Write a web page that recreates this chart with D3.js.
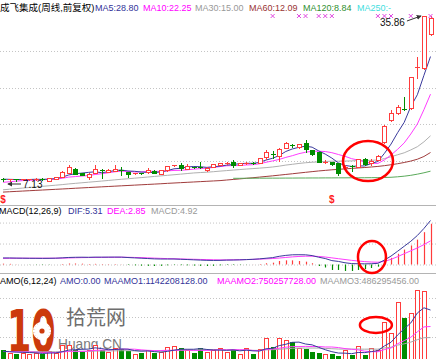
<!DOCTYPE html>
<html><head><meta charset="utf-8">
<script src="https://cdn.jsdelivr.net/npm/d3@7/dist/d3.min.js"></script>
<style>
html,body{margin:0;padding:0;background:#fff;overflow:hidden}
svg{display:block;font-family:"Liberation Sans",Arial,"Noto Sans CJK SC",sans-serif}
</style>
</head><body>
<svg id="chart" width="436" height="359"></svg>
<script>
// ---------------- DATA ----------------
const weeks = ("W01 W02 W03 W04 W05 W06 W07 W08 W09 W10 W11 W12 W13 W14 W15 W16 W17 W18 W19 W20 " +
  "W21 W22 W23 W24 W25 W26 W27 W28 W29 W30 W31 W32 W33 W34 W35 W36 W37 W38 W39 W40 " +
  "W41 W42 W43 W44 W45 W46 W47 W48 W49 W50 W51 W52 W53 W54 W55 W56 W57 W58 W59 W60 " +
  "W61 W62 W63 W64 W65 W66").split(" ");

const open  = [7.55,7.30,7.45,7.30,7.35,7.30,7.55,7.20,7.50,7.90, 8.50,9.20,8.50,7.85,8.50,9.10,8.75,8.90,9.10,8.70,
  8.45,8.55,8.70,8.90,8.40,9.00,9.85,9.95,9.20,9.60, 9.60,9.00,9.55,9.90,10.15,10.40,10.00,10.20,10.35,10.30,
  11.30,11.90,11.50,12.85,13.40,13.00,13.75,12.50,12.15,10.35, 10.45,10.20,9.35,9.75,9.60,10.95,10.25,10.75,13.90,17.70,
  18.95,19.75,19.80,26.90,26.80,32.80];
const high  = [7.65,7.55,7.50,7.50,7.55,7.65,7.60,7.65,7.80,8.80, 9.90,9.40,8.60,8.45,9.90,9.20,9.20,9.90,9.55,8.75,
  8.60,8.60,9.40,9.00,9.10,9.80,10.00,10.25,10.10,9.65, 10.40,9.55,10.10,10.30,10.50,10.75,10.35,10.40,10.40,11.20,
  12.50,12.35,12.80,13.90,13.55,13.65,14.25,12.60,12.20,10.80, 10.50,10.30,10.00,9.90,11.00,11.10,11.00,11.60,16.80,19.50,
  20.30,21.75,25.30,28.70,35.86,35.86];
const low   = [7.13,7.20,7.20,7.22,7.30,7.25,7.30,7.15,7.45,7.85, 8.45,8.30,8.10,7.45,8.45,7.65,8.70,8.85,8.20,7.80,
  8.40,8.30,8.60,8.50,8.30,8.95,9.80,9.00,9.15,9.45, 9.40,8.95,9.50,9.85,10.05,9.55,9.90,10.10,10.10,10.25,
  10.90,11.20,10.60,12.80,13.10,12.95,12.20,11.60,10.40,10.20, 10.00,8.15,9.20,8.95,9.50,10.00,9.95,10.70,13.80,17.60,
  18.80,19.45,19.70,25.05,26.70,32.50];
const close = [7.35,7.45,7.30,7.40,7.45,7.55,7.35,7.60,7.75,8.70, 9.56,8.35,8.20,8.35,9.20,8.80,9.10,9.30,8.80,8.35,
  8.55,8.45,9.00,8.60,9.00,9.70,9.95,9.45,9.70,9.50, 9.45,9.40,10.05,10.20,10.35,10.00,10.20,10.30,10.20,11.10,
  12.10,11.75,12.70,13.70,13.30,13.55,12.70,11.85,10.45,10.50, 10.10,8.50,9.65,9.60,10.90,10.10,10.60,11.45,16.70,18.95,
  20.00,19.60,25.20,27.00,35.86,35.50];

const ma5 = [7.45,7.42,7.38,7.38,7.39,7.43,7.41,7.47,7.54,7.79, 8.19,8.39,8.51,8.63,8.73,8.58,8.73,8.95,9.04,8.87,
  8.82,8.69,8.63,8.59,8.72,8.95,9.25,9.34,9.56,9.66, 9.61,9.50,9.62,9.72,9.89,10.0,10.16,10.21,10.21,10.36,
  10.78,11.09,11.57,12.27,12.71,13.0,13.19,13.02,12.37,11.81, 11.12,10.28,9.84,9.67,9.75,9.75,10.17,10.53,11.95,13.56,
  15.54,17.34,20.09,22.15,25.53,28.80];
const ma10 = [6.9,7.0,7.1,7.2,7.25,7.3,7.35,7.4,7.45,7.6, 7.81,7.90,7.99,8.09,8.26,8.39,8.56,8.73,8.84,8.80,
  8.70,8.71,8.79,8.82,8.80,8.89,8.97,8.99,9.08,9.19, 9.28,9.38,9.48,9.64,9.78,9.81,9.83,9.92,9.97,10.13,
  10.39,10.63,10.89,11.24,11.54,11.89,12.14,12.30,12.32,12.26, 12.06,11.74,11.43,11.02,10.78,10.44,10.23,10.19,10.81,11.66,
  12.65,13.76,15.31,17.05,19.55,22.25];
const ma30 = [5.6,5.7,5.8,5.9,6.0,6.1,6.2,6.3,6.4,6.5, 6.62,6.72,6.82,6.92,7.02,7.12,7.22,7.33,7.43,7.52,
  7.62,7.72,7.82,7.92,8.02,8.12,8.22,8.32,8.43,8.53, 8.60,8.66,8.75,8.85,8.94,9.03,9.12,9.21,9.29,9.37,
  9.46,9.57,9.72,9.90,10.04,10.19,10.31,10.40,10.45,10.53, 10.58,10.58,10.60,10.63,10.70,10.71,10.73,10.80,11.03,11.35,
  11.70,12.04,12.54,13.10,13.95,15.00];
const ma60 = [5.20,5.26,5.32,5.38,5.44,5.50,5.56,5.62,5.68,5.74, 5.80,5.87,5.93,5.99,6.05,6.11,6.17,6.23,6.29,6.35,
  6.41,6.47,6.53,6.59,6.65,6.72,6.78,6.84,6.90,6.96, 7.02,7.08,7.14,7.20,7.30,7.40,7.50,7.60,7.70,7.81,
  7.92,8.03,8.15,8.27,8.39,8.52,8.64,8.76,8.88,8.98, 9.08,9.16,9.24,9.32,9.40,9.48,9.57,9.67,9.80,9.96,
  10.14,10.35,10.60,10.92,11.40,12.09];
const ma120 = [null,null,null,null,null,null,null,null,null,null, null,null,null,null,null,null,null,null,null,null,
  null,null,null,null,null,null,null,null,null,null, null,null,null,null,null,7.60,7.60,7.61,7.61,7.62,
  7.62,7.63,7.63,7.64,7.64,7.65,7.65,7.66,7.66,7.67, 7.67,7.68,7.68,7.69,7.69,7.70,7.71,7.72,7.74,7.78,
  7.86,7.97,8.12,8.32,8.56,8.84];

const dif = [0.79,0.79,0.77,0.76,0.75,0.745,0.74,0.745,0.76,0.80, 0.85,0.87,0.88,0.87,0.89,0.885,0.89,0.895,0.89,0.84,
  0.80,0.76,0.72,0.68,0.66,0.66,0.665,0.63,0.60,0.565, 0.53,0.50,0.49,0.50,0.53,0.54,0.56,0.59,0.625,0.68,
  0.755,0.83,0.99,1.10,1.17,1.18,1.17,1.075,0.88,0.72, 0.47,0.37,0.21,0.11,0.09,0.08,0.09,0.14,0.53,1.02,
  1.60,2.20,2.80,3.50,4.35,5.31];
const dea = [0.74,0.75,0.76,0.76,0.76,0.76,0.76,0.76,0.76,0.77, 0.79,0.81,0.83,0.84,0.85,0.86,0.87,0.87,0.88,0.87,
  0.85,0.83,0.80,0.77,0.74,0.71,0.69,0.67,0.65,0.63, 0.61,0.59,0.57,0.55,0.56,0.57,0.58,0.60,0.62,0.65,
  0.68,0.72,0.78,0.85,0.92,0.97,1.00,1.00,0.97,0.90, 0.80,0.70,0.60,0.50,0.42,0.35,0.30,0.27,0.38,0.62,
  0.95,1.30,1.65,2.00,2.40,2.85];
const macd = [0.10,0.08,0.02,0.00,-0.02,-0.03,-0.04,-0.03,0.00,0.06, 0.12,0.12,0.10,0.06,0.08,0.05,0.04,0.05,0.02,-0.06,
  -0.10,-0.14,-0.16,-0.18,-0.16,-0.10,-0.05,-0.08,-0.10,-0.13, -0.16,-0.18,-0.16,-0.10,-0.06,-0.06,-0.04,-0.02,0.01,0.06,
  0.15,0.22,0.42,0.50,0.50,0.42,0.34,0.15,-0.18,-0.36, -0.66,-0.66,-0.78,-0.78,-0.66,-0.54,-0.42,-0.26,0.30,0.80,
  1.30,1.80,2.30,3.00,3.90,4.92];

// amount, in units of 100 million yuan
const amo = [1.9,1.1,1.0,1.2,0.9,1.3,1.0,1.6,1.2,3.0, 3.2,2.0,1.4,1.9,3.0,2.0,1.5,2.3,2.2,1.6,
  1.0,1.2,1.8,1.3,1.5,2.6,2.8,2.5,1.8,1.3, 2.4,1.4,2.0,2.4,1.5,1.9,1.0,2.4,1.0,2.1,
  4.8,2.6,4.8,4.3,3.8,2.4,2.1,1.4,1.2,0.9, 1.0,0.5,1.9,0.7,2.9,0.7,2.4,1.9,8.6,6.0,
  13.3,9.5,10.7,16.2,16.0,0];
const maamo1 = [1.6,1.5,1.4,1.35,1.3,1.23,1.08,1.17,1.2,1.5, 1.88,2.0,2.07,2.12,2.42,2.25,1.97,2.02,2.15,2.1,
  1.77,1.63,1.68,1.52,1.4,1.57,1.87,2.08,2.08,2.08, 2.23,2.03,1.9,1.88,1.83,1.93,1.7,1.87,1.7,1.65,
  2.2,2.32,2.95,3.27,3.73,3.78,3.33,3.13,2.53,1.97, 1.5,1.18,1.15,1.03,1.32,1.28,1.52,1.75,2.87,3.75,
  5.48,6.95,8.33,10.72,11.95,11.42];
const maamo2 = [1.55,1.5,1.5,1.45,1.45,1.4,1.34,1.34,1.3,1.43, 1.59,1.62,1.58,1.65,1.81,1.88,1.93,2.01,2.11,2.11,
  2.1,1.94,1.83,1.77,1.78,1.84,1.82,1.86,1.88,1.8, 1.82,1.8,1.89,1.98,1.96,2.0,1.97,1.95,1.8,1.77,
  2.02,2.13,2.33,2.57,2.72,2.72,2.77,2.73,2.74,2.62, 2.62,2.48,2.24,2.08,1.93,1.63,1.51,1.47,2.01,2.39,
  3.4,4.12,4.93,6.24,7.41,7.50];
const maamo3 = [1.55,1.55,1.5,1.5,1.5,1.5,1.48,1.48,1.47,1.5, 1.55,1.56,1.57,1.58,1.66,1.67,1.69,1.71,1.73,1.73,
  1.7,1.69,1.71,1.7,1.68,1.75,1.82,1.87,1.91,1.91, 1.97,1.96,2.0,1.96,1.9,1.89,1.88,1.9,1.81,1.82,
  1.95,1.97,2.08,2.19,2.31,2.35,2.37,2.37,2.36,2.29, 2.21,2.13,2.13,2.11,2.13,2.1,2.12,2.1,2.39,2.56,
  3.07,3.37,3.78,4.36,4.83,4.86];

// markers / annotations (by week index and value)
const crossWeeks = [41,45,46,48,49,50,57,58,59,62,65];
const dollarWeeks = [0,50];
const lowMark = {i:0, v:7.13};
const highMark = {i:64, v:35.86};
const priceGrid = [10.61, 17.06, 23.32, 29.77];
const macdGrid = [0, 2.53, 5.06];
const amoGrid = [5.0, 9.76, 14.29];
const rings = [
  {panel:"price", i:55.5, v:10.6},
  {panel:"macd",  i:56.1, v:0.9},
  {panel:"amo",   i:56.7, v:7.86}
];

// header texts
const headMain = ["成飞集成(周线,前复权)","MA5:28.80","MA10:22.25","MA30:15.00","MA60:12.09","MA120:8.84","MA250:-"];
const headMacd = ["MACD(12,26,9)","DIF:5.31","DEA:2.85","MACD:4.92"];
const headAmo  = ["AMO(6,12,24)","AMO:0.00","MAAMO1:1142208128.00","MAAMO2:750257728.00","MAAMO3:486295456.00"];

// ---------------- STYLE / LAYOUT ----------------
const W = 436;
const RED = "#ff3c3c", GREEN = "#008c00";
const BLUE = "#3a3a9c", MAG = "#ff3cff", GRAY = "#b0b0b0", BROWN = "#a03c3c", LGREEN = "#5aaa5a";
const headMainX = [0,95,143,195,249,303,357];
const headMainC = ["#000", "#333399", "#ff00ff", "#999999", "#993333", "#2f8f2f", "#3fdede"];
const headMacdX = [-1,68,107,151];
const headMacdC = ["#000", "#333399", "#ff00ff", "#999999"];
const headAmoX = [0,60,104,217,320];
const headAmoC = ["#000", "#333399", "#333399", "#ff00ff", "#999999"];
const ringSize = {price:[25,20], macd:[14,16], amo:[16,8]};

const svg = d3.select("#chart");
svg.append("rect").attr("width",W).attr("height",359).attr("fill","#fff");

const x = d3.scalePoint().domain(weeks).range([3, 430.5]);
const xi = i => x(weeks[i]);
const xf = d3.scaleLinear().domain([0, weeks.length-1]).range([3, 430.5]);
const yP = d3.scaleLinear().domain([7.13, 35.86]).range([181, 16]);
const yM = d3.scaleLinear().domain([0, 5.31]).range([264.5, 220.5]);
const yA = d3.scaleLinear().domain([0, 10]).range([358, 316]);

// grids via axes
function grid(scale, vals){
  const g = svg.append("g").call(d3.axisRight(scale).tickValues(vals).tickSize(W).tickFormat(""));
  g.select(".domain").remove();
  g.selectAll(".tick line").attr("stroke","#c4c4c4").attr("stroke-dasharray","1,2");
  return g;
}
grid(yP, priceGrid);
grid(yM, macdGrid);
grid(yA, amoGrid);

// dividers
[205.5, 273.5].forEach(yy => svg.append("line").attr("x1",0).attr("x2",W).attr("y1",yy).attr("y2",yy)
  .attr("stroke","#b4b4b4").attr("stroke-width",1));

// headers
function header(texts, xs, cs, y){
  texts.forEach((t,k)=>{
    svg.append("text").attr("x",xs[k]).attr("y",y).attr("font-size", k===0 && /[\u4e00-\u9fff]/.test(t) ? 9.5 : 9)
      .attr("fill",cs[k]).text(t);
  });
}
header(headMain, headMainX, headMainC, 11);
header(headMacd, headMacdX, headMacdC, 214);
header(headAmo, headAmoX, headAmoC, 284);

// watermark
const wm = svg.append("g");
wm.append("g").attr("transform","translate(7,352) scale(1,1.7)")
  .append("text").attr("x",0).attr("y",0).attr("font-size",35).attr("font-weight","bold")
  .attr("font-family","DejaVu Sans, sans-serif").attr("fill","#cc3a0c").text("10");
const gear = wm.append("g").attr("transform","translate(42,331)");
d3.range(8).forEach(k=>gear.append("rect").attr("x",-1.6).attr("y",-9).attr("width",3.2).attr("height",18)
  .attr("fill","#fff").attr("transform",`rotate(${k*22.5})`));
gear.append("circle").attr("r",6.5).attr("fill","#fff");
gear.append("circle").attr("r",2.6).attr("fill","#cc3a0c");
wm.append("text").attr("x",66).attr("y",325).attr("font-size",20).attr("font-family","Noto Sans CJK SC")
  .attr("fill","#6e6e6e").text("拾荒网");
wm.append("text").attr("x",58).attr("y",349).attr("font-size",15).attr("fill","#7a7a7a")
  .attr("textLength",64).attr("lengthAdjust","spacingAndGlyphs").text("Huang.CN");

// MA lines (price)
const lineP = d3.line().defined(d=>d!=null).x((d,i)=>xi(i)).y(d=>yP(d));
[[ma60,BROWN],[ma120,LGREEN],[ma30,GRAY],[ma10,MAG],[ma5,BLUE]].forEach(([arr,c])=>{
  svg.append("path").datum(arr).attr("d",lineP).attr("fill","none").attr("stroke",c).attr("stroke-width",1);
});

// candles
const cg = svg.append("g");
weeks.forEach((w,i)=>{
  const o=open[i], c=close[i], h=high[i], l=low[i];
  const cx = Math.round(xi(i));
  const up = c >= o;
  const col = up ? RED : GREEN;
  cg.append("line").attr("x1",cx+0.5).attr("x2",cx+0.5).attr("y1",Math.round(yP(h))).attr("y2",Math.round(yP(l))+1)
    .attr("stroke",col).attr("stroke-width",1);
  const top = Math.round(yP(Math.max(o,c))), bot = Math.round(yP(Math.min(o,c)));
  if (bot - top < 2){
    cg.append("rect").attr("x",cx-2).attr("y",top).attr("width",5).attr("height",Math.max(1,bot-top)).attr("fill",col);
  } else if (up){
    cg.append("rect").attr("x",cx-1.5).attr("y",top+0.5).attr("width",4).attr("height",bot-top)
      .attr("fill","#fff").attr("stroke",col).attr("stroke-width",1);
  } else {
    cg.append("rect").attr("x",cx-2).attr("y",top).attr("width",5).attr("height",bot-top+1).attr("fill",col);
  }
});

// cross markers
crossWeeks.forEach(i=>{
  const cx = xi(i), cy = 16;
  svg.append("path").attr("d",`M${cx-2},${cy-2}L${cx+2},${cy+2}M${cx-2},${cy+2}L${cx+2},${cy-2}`)
    .attr("stroke","#e048e0").attr("stroke-width",1);
});
// dollar markers
dollarWeeks.forEach(i=>{
  svg.append("text").attr("x",xi(i)).attr("y",203).attr("text-anchor","middle").attr("font-size",10)
    .attr("font-weight","bold").attr("fill","#ff2020").text("$");
});

// high / low labels
svg.append("defs").append("marker").attr("id","ah").attr("viewBox","0 0 6 6").attr("refX",5).attr("refY",3)
  .attr("markerWidth",5).attr("markerHeight",5).attr("orient","auto")
  .append("path").attr("d","M0,0L6,3L0,6Z").attr("fill","#333");
{
  const tx = xi(highMark.i)-3, ty = yP(highMark.v);
  svg.append("line").attr("x1",tx-14).attr("y1",ty+5).attr("x2",tx).attr("y2",ty).attr("stroke","#333")
    .attr("stroke-width",1).attr("marker-end","url(#ah)");
  svg.append("text").attr("x",tx-16).attr("y",ty+10).attr("text-anchor","end").attr("font-size",10)
    .attr("fill","#111").text(highMark.v.toFixed(2));
  const lx = xi(lowMark.i)+5, ly = yP(lowMark.v)+3;
  svg.append("line").attr("x1",lx+13).attr("y1",ly).attr("x2",lx).attr("y2",ly).attr("stroke","#333")
    .attr("stroke-width",1).attr("marker-end","url(#ah)");
  svg.append("text").attr("x",lx+15).attr("y",ly+4).attr("font-size",10).attr("fill","#111").text(lowMark.v.toFixed(2));
}

// MACD
weeks.forEach((w,i)=>{
  const cx = Math.round(xi(i))+0.5;
  svg.append("line").attr("x1",cx).attr("x2",cx).attr("y1",yM(0)).attr("y2",yM(macd[i]))
    .attr("stroke", macd[i]>=0 ? RED : GREEN).attr("stroke-width",1.2);
});
const lineM = d3.line().x((d,i)=>xi(i)).y(d=>yM(d));
svg.append("path").datum(dea).attr("d",lineM).attr("fill","none").attr("stroke",MAG).attr("stroke-width",1);
svg.append("path").datum(dif).attr("d",lineM).attr("fill","none").attr("stroke",BLUE).attr("stroke-width",1);

// AMO bars
weeks.forEach((w,i)=>{
  if (!amo[i]) return;
  const cx = Math.round(xi(i));
  const up = close[i] >= open[i];
  const top = Math.round(yA(amo[i]));
  if (up){
    svg.append("rect").attr("x",cx-1.5).attr("y",top+0.5).attr("width",4).attr("height",360-top)
      .attr("fill","#fff").attr("stroke",RED).attr("stroke-width",1);
  } else {
    svg.append("rect").attr("x",cx-2).attr("y",top).attr("width",5).attr("height",360-top).attr("fill",GREEN);
  }
});
const lineA = d3.line().x((d,i)=>xi(i)).y(d=>yA(d));
[[maamo3,"#a8a8a8"],[maamo2,MAG],[maamo1,BLUE]].forEach(([arr,c])=>{
  svg.append("path").datum(arr).attr("d",lineA).attr("fill","none").attr("stroke",c).attr("stroke-width",1);
});

// red annotation rings
const yBy = {price:yP, macd:yM, amo:yA};
rings.forEach(r=>{
  svg.append("ellipse").attr("cx",xf(r.i)).attr("cy",yBy[r.panel](r.v))
    .attr("rx",ringSize[r.panel][0]).attr("ry",ringSize[r.panel][1])
    .attr("fill","none").attr("stroke","#ff0000").attr("stroke-width",2.5);
});
</script>
</body></html>
